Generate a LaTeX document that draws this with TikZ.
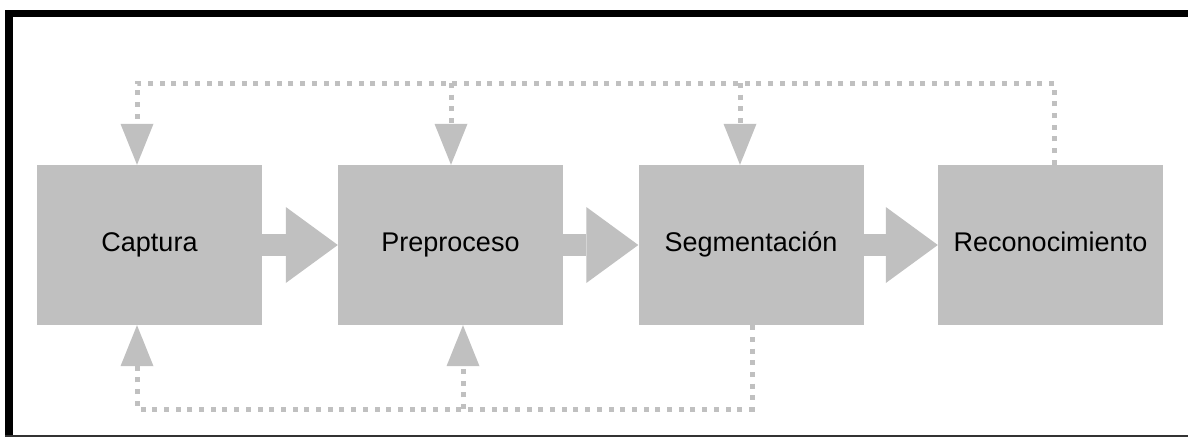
\documentclass[tikz,border=0pt]{standalone}
\usepackage{fontspec}
\setmainfont{Liberation Sans}
\usetikzlibrary{arrows.meta}
\definecolor{boxgray}{RGB}{192,192,192}
\begin{document}
\begin{tikzpicture}[x=1pt,y=-1pt,
  stage/.style={fill=boxgray, minimum width=225pt, minimum height=160pt, inner sep=0pt,
    font=\fontsize{27}{32}\selectfont, text height=19pt, text depth=6pt, anchor=center},
  flow/.style={draw=boxgray, line width=22pt, -{Triangle[width=76pt,length=52pt,line width=0pt]}},
  fb/.style={draw=boxgray, line width=5pt, dash pattern=on 5pt off 6.7pt},
  fbarrow/.style={fb, -{Triangle[width=33pt,length=41pt,line width=0pt]}}
]
\useasboundingbox (0,0) rectangle (1188,440);
\fill[white] (0,0) rectangle (1188,440);
% frame
\fill[black] (5,10) rectangle (1188,17);
\fill[black] (5,10) rectangle (13,437);
\fill[black!80] (5,435) rectangle (1188,437);
% stages
\node[stage] (cap) at (149.5,245) {Captura};
\node[stage] (pre) at (450.5,245) {Preproceso};
\node[stage] (seg) at (751,245) {Segmentación};
\node[stage] (rec) at (1050.5,245) {Reconocimiento};
% main flow
\draw[flow] (cap.east) -- (pre.west);
\draw[flow] (pre.east) -- (seg.west);
\draw[flow] (seg.east) -- (rec.west);
% top feedback
\coordinate (tl) at (137,83);
\coordinate (tr) at (1054,83);
\coordinate (tp) at (451,83);
\coordinate (ts) at (740,83);
\draw[fbarrow] (rec.north -| tr) -- (tr) -- (tl) -- (cap.north -| tl);
\draw[fbarrow] (tp) -- (pre.north -| tp);
\draw[fbarrow] (ts) -- (seg.north -| ts);
% bottom feedback
\coordinate (bl) at (137,409);
\coordinate (br) at (752,409);
\coordinate (bp) at (463,409);
\draw[fbarrow] (seg.south -| br) -- (br) -- (bl) -- (cap.south -| bl);
\draw[fbarrow] (bp) -- (pre.south -| bp);
\end{tikzpicture}
\end{document}
